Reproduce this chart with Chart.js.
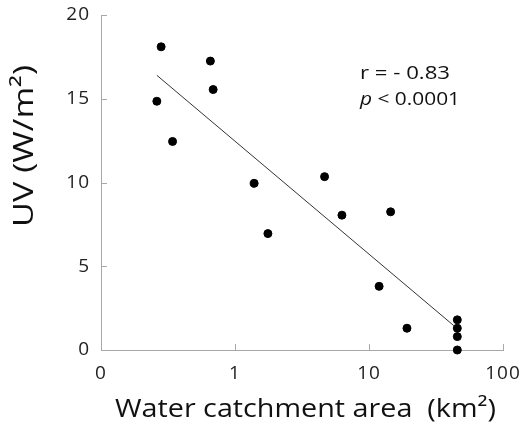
<!DOCTYPE html>
<html>
<head>
<meta charset="utf-8">
<script src="https://cdn.jsdelivr.net/npm/chart.js@4/dist/chart.umd.min.js"></script>
<style>
  html, body { margin: 0; padding: 0; background: #fff; }
  #wrap { width: 526px; height: 426px; }
</style>
</head>
<body>
<div id="wrap"><canvas id="uvChart" width="526" height="426"></canvas></div>
<script>
// data
const areaKm2 = [0.281, 0.655, 0.687, 0.261, 0.342, 1.39, 4.66, 1.76, 6.28, 14.5, 11.9, 19.2, 45.6, 45.6, 45.6, 45.6];
const uvWm2   = [18.1, 17.25, 15.55, 14.85, 12.45, 9.95, 10.35, 6.95, 8.05, 8.25, 3.8, 1.3, 1.8, 1.3, 0.8, 0];
const fitX = [0.261, 43];
const fitY = [16.4, 1.45];
const xTicks = [0.1, 1, 10, 100];
const xTickLabels = ["0", "1", "10", "100"];
const yTicks = [0, 5, 10, 15, 20];
const statLines = ["r = - 0.83", "p < 0.0001"];

const FONT = "'Open Sans', 'Noto Sans', sans-serif";
const AXIS_GREY = "#a8a8a8";

const points = areaKm2.map((x, i) => ({ x: x, y: uvWm2[i] }));
const fitLine = fitX.map((x, i) => ({ x: x, y: fitY[i] }));

// draws text stretched sideways so it spans width w (the original font is a wide one)
function wideText(ctx, parts, x, y, w) {
  let total = 0;
  parts.forEach(p => { ctx.font = p.font; total += ctx.measureText(p.text).width; });
  const k = w / total;
  ctx.save();
  ctx.translate(x, y);
  ctx.scale(k, 1);
  let cx = 0;
  parts.forEach(p => {
    ctx.font = p.font;
    ctx.fillText(p.text, cx, 0);
    cx += ctx.measureText(p.text).width;
  });
  ctx.restore();
}

// small inward ticks, axis titles and the r / p note
const extras = {
  id: "extras",
  beforeDraw(chart) { chart.ctx.letterSpacing = "1px"; },
  afterDraw(chart) {
    const ctx = chart.ctx;
    const xs = chart.scales.x, ys = chart.scales.y;
    const a = chart.chartArea;
    ctx.save();
    ctx.letterSpacing = "0px";
    ctx.strokeStyle = AXIS_GREY;
    ctx.lineWidth = 1;
    ctx.beginPath();
    xTicks.forEach(v => {
      const px = Math.round(xs.getPixelForValue(v)) + 0.5;
      ctx.moveTo(px, a.bottom);
      ctx.lineTo(px, a.bottom - 6);
    });
    yTicks.forEach(v => {
      const py = Math.round(ys.getPixelForValue(v)) + 0.5;
      ctx.moveTo(a.left, py);
      ctx.lineTo(a.left + 6, py);
    });
    ctx.stroke();

    ctx.fillStyle = "#111";
    ctx.textBaseline = "middle";
    ctx.textAlign = "left";
    const f = (s, it) => (it ? "italic " : "") + s + "px " + FONT;
    // x title
    wideText(ctx, [{ text: "Water catchment area  (km²)", font: f(26) }], 115, 410, 381);
    // y title
    ctx.save();
    ctx.translate(25, 227);
    ctx.rotate(-Math.PI / 2);
    wideText(ctx, [{ text: "UV (W/m²)", font: f(28) }], 0, 0, 162);
    ctx.restore();

    // stats note
    wideText(ctx, [{ text: statLines[0], font: f(18) }], 360, 74, 90);
    wideText(ctx, [
      { text: statLines[1].slice(0, 1), font: f(18, true) },
      { text: statLines[1].slice(1), font: f(18) }
    ], 360, 100, 100);
    ctx.restore();
  }
};

new Chart(document.getElementById("uvChart"), {
  type: "scatter",
  data: {
    datasets: [
      {
        label: "sites",
        data: points,
        backgroundColor: "#000",
        borderColor: "#000",
        pointRadius: 4,
        pointHoverRadius: 4,
        clip: false
      },
      {
        type: "line",
        label: "fit",
        data: fitLine,
        borderColor: "#333",
        borderWidth: 1,
        pointRadius: 0,
        fill: false
      }
    ]
  },
  options: {
    responsive: false,
    animation: false,
    events: [],
    layout: { padding: { top: 15, right: 23, left: 0, bottom: 0 } },
    plugins: { legend: { display: false }, tooltip: { enabled: false } },
    scales: {
      x: {
        type: "logarithmic",
        min: 0.1,
        max: 100,
        afterBuildTicks(scale) {
          scale.ticks = xTicks.map(v => ({ value: v }));
        },
        afterFit(scale) {
          scale.height = 76;
          scale.paddingLeft = 0;
          scale.paddingRight = 0;
        },
        grid: { display: true, drawOnChartArea: false, drawTicks: false },
        border: { display: true, color: AXIS_GREY, width: 1 },
        ticks: {
          autoSkip: false,
          maxRotation: 0,
          padding: 12,
          color: "#222",
          font: { family: FONT, size: 19 },
          callback: (v) => xTickLabels[xTicks.indexOf(v)] ?? ""
        }
      },
      y: {
        min: 0,
        max: 20,
        afterBuildTicks(scale) {
          scale.ticks = yTicks.map(v => ({ value: v }));
        },
        afterFit(scale) {
          scale.width = 101;
          scale.paddingTop = 0;
          scale.paddingBottom = 0;
        },
        grid: { display: true, drawOnChartArea: false, drawTicks: false },
        border: { display: true, color: AXIS_GREY, width: 1 },
        ticks: {
          padding: 11,
          color: "#222",
          font: { family: FONT, size: 19 }
        }
      }
    }
  },
  plugins: [extras]
});
</script>
</body>
</html>
